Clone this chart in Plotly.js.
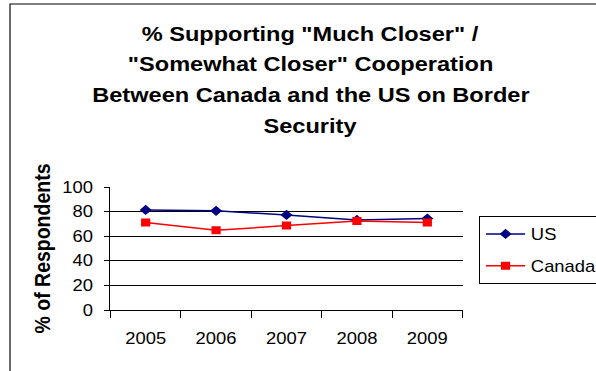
<!DOCTYPE html>
<html>
<head>
<meta charset="utf-8">
<script src="https://cdn.plot.ly/plotly-3.0.1.min.js"></script>
<style>
  html, body { margin: 0; padding: 0; background: #fff; overflow: hidden; }
  #chart { width: 518px; height: 371px; transform: scaleX(1.1506); transform-origin: 0 0; }
</style>
</head>
<body>
<div id="chart"></div>
<script>
const years = ["2005", "2006", "2007", "2008", "2009"];
const usValues = [81.4, 80.6, 77.3, 73.2, 74.3];
const canadaValues = [71.1, 64.8, 68.6, 72.4, 71.1];
const seriesNames = ["US", "Canada"];
const titleLines = [
  "% Supporting \"Much Closer\" /",
  "\"Somewhat Closer\" Cooperation",
  "Between Canada and the US on Border",
  "Security"
];
const yAxisTitle = "% of Respondents";
const yTicks = [0, 20, 40, 60, 80, 100];

const FONT = "Liberation Sans, Arial, sans-serif";

const traces = [
  {
    x: years, y: usValues, name: seriesNames[0], type: "scatter", mode: "lines+markers",
    line: { color: "#000080", width: 1.5 },
    marker: { symbol: "diamond", size: 8, color: "#000080" },
    legendgroup: "a"
  },
  {
    x: years, y: canadaValues, name: seriesNames[1], type: "scatter", mode: "lines+markers",
    line: { color: "#ff0000", width: 1.5 },
    marker: { symbol: "square", size: 8, color: "#ff0000" },
    legendgroup: "b"
  }
];

const titleY = [33.5, 63.5, 94, 125];
const plotTop = 187, plotBottom = 310;
const annotations = titleLines.map((t, i) => ({
  text: "<b>" + t + "</b>",
  xref: "paper", yref: "paper",
  x: 0.567, y: (plotBottom - titleY[i]) / (plotBottom - plotTop),
  xanchor: "center", yanchor: "middle",
  showarrow: false,
  font: { family: FONT, size: 20.5, color: "#000" }
}));

const layout = {
  width: 518, height: 371,
  margin: { l: 96, r: 116, t: plotTop, b: 371 - plotBottom, pad: 0, autoexpand: false },
  paper_bgcolor: "#fff", plot_bgcolor: "#fff",
  showlegend: true,
  font: { family: FONT, size: 16, color: "#000" },
  xaxis: {
    type: "category",
    range: [-0.5, 4.5],
    showline: true, linecolor: "#000", linewidth: 1,
    ticks: "outside", tickson: "boundaries", ticklen: 7, tickcolor: "#000", tickwidth: 1,
    showgrid: false, zeroline: false,
    ticklabelstandoff: 14,
    tickfont: { family: FONT, size: 16, color: "#000" }
  },
  yaxis: {
    range: [0, 100],
    tickvals: yTicks,
    showline: true, linecolor: "#000", linewidth: 1,
    ticks: "outside", ticklen: 5, tickcolor: "#000", tickwidth: 1,
    showgrid: true, gridcolor: "#000", gridwidth: 1,
    zeroline: false,
    ticklabelstandoff: 6,
    tickfont: { family: FONT, size: 16, color: "#000" },
    title: { text: "<b>" + yAxisTitle + "</b>", font: { family: FONT, size: 19.5, color: "#000" }, standoff: 4 }
  },
  legend: {
    x: 1.047, xanchor: "left",
    y: (plotBottom - 216) / (plotBottom - plotTop), yanchor: "top",
    bordercolor: "#000", borderwidth: 1,
    bgcolor: "#fff",
    font: { family: FONT, size: 16, color: "#000" },
    tracegroupgap: 8,
    itemwidth: 34,
    entrywidth: 125
  },
  annotations: annotations,
  shapes: [
    {
      type: "rect", xref: "paper", yref: "paper",
      x0: (8.7 - 96) / 306, x1: 2,
      y0: -1, y1: (plotBottom - 4) / (plotBottom - plotTop),
      line: { color: "#000", width: 1 }, fillcolor: "rgba(0,0,0,0)",
      layer: "below"
    }
  ]
};

Plotly.newPlot("chart", traces, layout, { staticPlot: true, displayModeBar: false });
</script>
</body>
</html>
